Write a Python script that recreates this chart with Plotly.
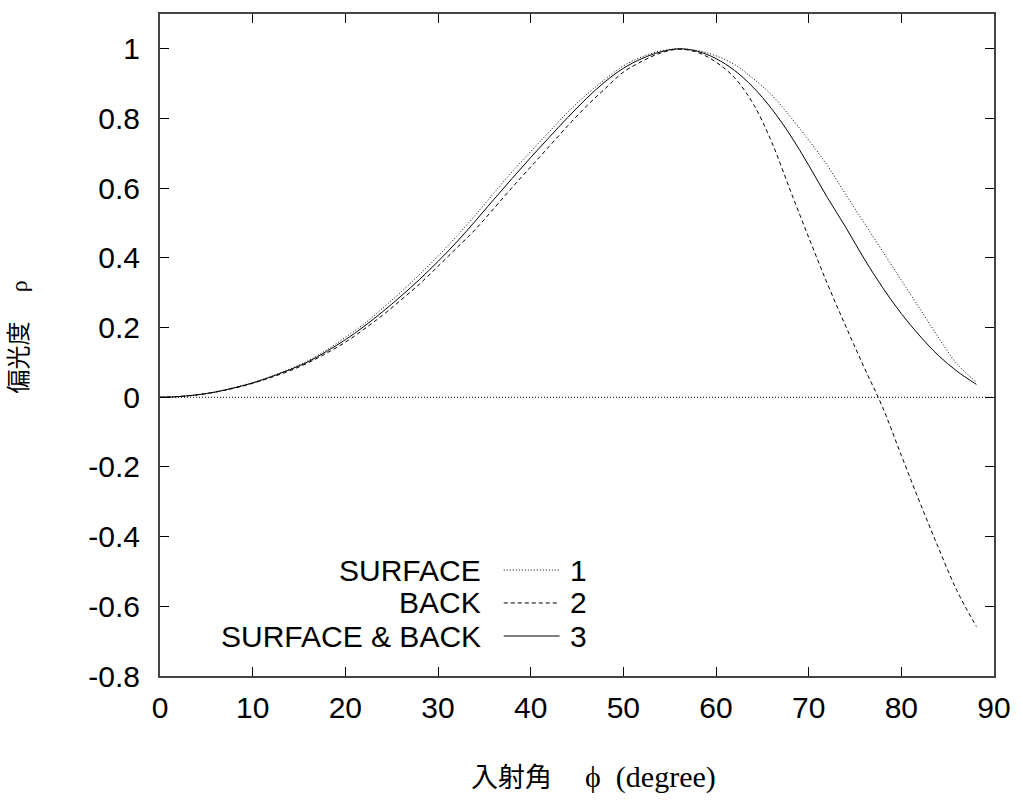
import plotly.graph_objects as go

# Incidence angle (degree) shared by the three curves
angle = [0, 2, 4, 6, 8, 10, 12, 14, 16, 18, 20, 22, 24, 26, 28, 30, 32, 34,
         36, 38, 40, 42, 44, 46, 48, 50, 52, 54, 56, 58, 60, 62, 64, 66, 68,
         70, 72, 74, 76, 78, 80, 82, 84, 86, 88.1]

# Degree of polarization, reflection from the front surface only
surface_rho = [0, 0.002, 0.007, 0.016, 0.028, 0.042, 0.060, 0.081, 0.105,
               0.136, 0.172, 0.210, 0.255, 0.302, 0.352, 0.405, 0.462, 0.522,
               0.585, 0.647, 0.705, 0.762, 0.818, 0.868, 0.912, 0.951, 0.977,
               0.994, 1.0, 0.995, 0.980, 0.955, 0.915, 0.868, 0.806, 0.738,
               0.666, 0.582, 0.500, 0.418, 0.336, 0.254, 0.172, 0.096, 0.044]

# Degree of polarization, reflection from the back surface only
back_rho = [0, 0.002, 0.007, 0.015, 0.026, 0.040, 0.057, 0.076, 0.099,
            0.127, 0.158, 0.195, 0.235, 0.279, 0.325, 0.376, 0.428, 0.481,
            0.541, 0.602, 0.661, 0.720, 0.779, 0.835, 0.885, 0.933, 0.964,
            0.988, 0.999, 0.990, 0.962, 0.917, 0.843, 0.733, 0.595, 0.459,
            0.327, 0.204, 0.085, -0.030, -0.167, -0.302, -0.432, -0.555, -0.658]

# Degree of polarization, both surfaces together
both_rho = [0, 0.002, 0.007, 0.015, 0.027, 0.041, 0.059, 0.079, 0.102,
            0.132, 0.165, 0.203, 0.245, 0.290, 0.338, 0.390, 0.445, 0.505,
            0.567, 0.628, 0.688, 0.746, 0.803, 0.857, 0.905, 0.944, 0.972,
            0.991, 1.0, 0.993, 0.972, 0.938, 0.890, 0.828, 0.753, 0.666,
            0.574, 0.488, 0.397, 0.314, 0.240, 0.176, 0.120, 0.075, 0.037]

y_ticks = [-0.8, -0.6, -0.4, -0.2, 0, 0.2, 0.4, 0.6, 0.8, 1]
y_tick_text = ["-0.8", "-0.6", "-0.4", "-0.2", "0", "0.2", "0.4", "0.6", "0.8", "1"]
x_ticks = [0, 10, 20, 30, 40, 50, 60, 70, 80, 90]
x_tick_text = ["0", "10", "20", "30", "40", "50", "60", "70", "80", "90"]

legend_names = ["SURFACE", "BACK", "SURFACE &amp; BACK"]
legend_numbers = ["1", "2", "3"]

SANS = "Liberation Sans, Arial, Helvetica, sans-serif"
SERIF = "Liberation Serif, Times New Roman, serif"
CJK = "Noto Sans CJK JP, sans-serif"

DOT = "1px,2px"
DASH = "4px,3px"
styles = [DOT, DASH, "solid"]

fig = go.Figure()
for ys, d in [(surface_rho, DOT), (back_rho, DASH), (both_rho, "solid")]:
    fig.add_trace(go.Scatter(
        x=angle, y=ys, mode="lines",
        line=dict(color="black", width=1, dash=d, shape="spline", smoothing=1),
        showlegend=False, hoverinfo="skip"))

# dotted zero axis across the frame
fig.add_shape(type="line", xref="paper", yref="y", x0=0, x1=1, y0=0, y1=0,
              line=dict(color="black", width=1, dash=DOT), layer="below")

# key in the lower left: name, line sample, curve number
row_y = [0.1601, 0.1103, 0.0604]
for name, num, d, ry in zip(legend_names, legend_numbers, styles, row_y):
    fig.add_annotation(xref="paper", yref="paper", x=0.3871, y=ry,
                       text=name, showarrow=False, xanchor="right",
                       yanchor="middle", font=dict(family=SANS, size=30, color="black"))
    fig.add_shape(type="line", xref="paper", yref="paper",
                  x0=0.4122, x1=0.4791, y0=ry, y1=ry,
                  line=dict(color="black", width=1, dash=d))
    fig.add_annotation(xref="paper", yref="paper", x=0.5018, y=ry,
                       text=num, showarrow=False, xanchor="center",
                       yanchor="middle", font=dict(family=SANS, size=30, color="black"))

# axis titles
fig.add_annotation(xref="paper", yref="paper", x=0.5195, y=-0.151,
                   text=("<span style='font-family:Noto Sans CJK JP;font-size:27px'>入射角</span>"
                         "　 <span style='font-family:Liberation Serif;font-size:30px'>ϕ&nbsp;&nbsp;(degree)</span>"),
                   showarrow=False, xanchor="center", yanchor="middle",
                   font=dict(family=CJK, size=27, color="black"))
fig.add_annotation(xref="paper", yref="paper", x=-0.172, y=0.512,
                   text=("<span style='font-family:Noto Sans CJK JP'>偏光度</span>"
                         "　 <span style='font-family:Liberation Serif'>ρ</span>"),
                   showarrow=False, xanchor="center", yanchor="middle",
                   textangle=-90, font=dict(family=CJK, size=24, color="black"))

axis_common = dict(showgrid=False, zeroline=False, showline=True, linecolor="#444",
                   linewidth=2, mirror="ticks", ticks="inside", ticklen=9,
                   tickwidth=1, tickcolor="black",
                   tickfont=dict(family=SANS, size=30, color="black"))

fig.update_xaxes(range=[0, 90], tickvals=x_ticks, ticktext=x_tick_text,
                 ticklabelstandoff=4, **axis_common)
fig.update_yaxes(range=[-0.8, 1.1], tickvals=y_ticks, ticktext=y_tick_text,
                 ticklabelstandoff=12, **axis_common)

fig.update_layout(width=1023, height=810,
                  margin=dict(l=160, r=26, t=14, b=134),
                  paper_bgcolor="white", plot_bgcolor="white")

fig.write_html("out.html")
